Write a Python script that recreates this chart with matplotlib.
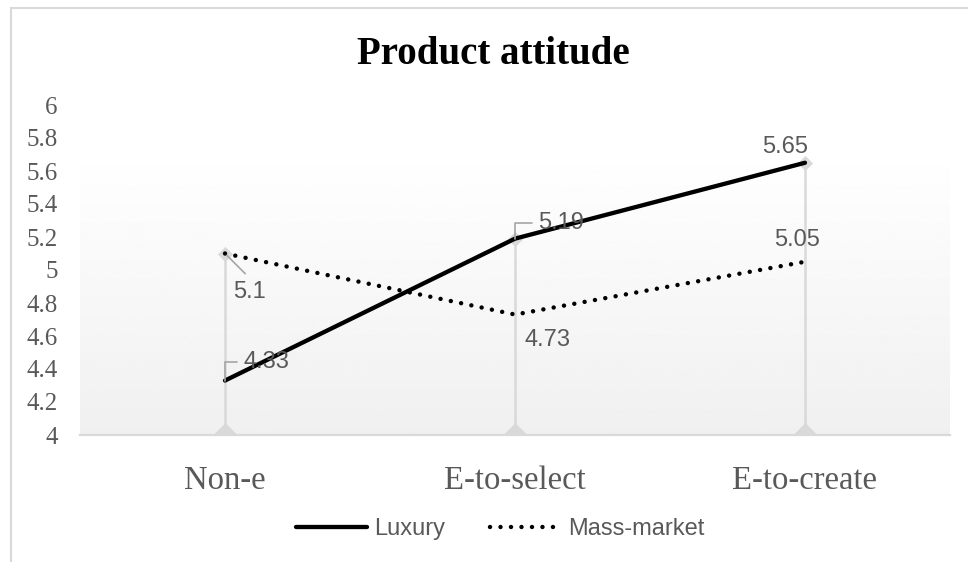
### Product attitude line chart (Excel style)
import numpy as np
import matplotlib.pyplot as plt
import matplotlib.patches as mpatches

### Data
categories = ['Non-e', 'E-to-select', 'E-to-create']
luxury = [4.33, 5.19, 5.65]
massmarket = [5.1, 4.73, 5.05]
yticks = [4, 4.2, 4.4, 4.6, 4.8, 5, 5.2, 5.4, 5.6, 5.8, 6]
yticklabels = ['4', '4.2', '4.4', '4.6', '4.8', '5', '5.2', '5.4', '5.6', '5.8', '6']

### Style
grey = '#595959'
lightgrey = '#d9d9d9'
serif = 'Liberation Serif'
sans = 'Liberation Sans'

W, H = 968, 562
fig = plt.figure(figsize=(W/100, H/100), dpi=100)
fig.patch.set_facecolor('white')

# outer chart border (cropped on right/bottom)
fig.patches.append(mpatches.Rectangle((10.5/W, -0.1), 1.2, 1.1 - 7.5/H,
                                      transform=fig.transFigure, fill=False,
                                      edgecolor=lightgrey, linewidth=1.5))

ax = fig.add_axes([80/W, 1-435/H, 870/W, 330/H])
x = np.arange(len(categories))
ax.set_xlim(-0.5, 2.5)
ax.set_ylim(4, 6)

# plot area gradient fill
grad = np.linspace(1.0, 0.94, 256).reshape(-1, 1)
ax.imshow(grad, cmap='gray', vmin=0, vmax=1, aspect='auto',
          extent=[-0.5, 2.5, 4, 5.745], zorder=0)

# drop lines with diamond ends
tops = np.maximum(luxury, massmarket)
ax.vlines(x, 4, tops, color=lightgrey, linewidth=1.8, zorder=1)
ax.scatter(x, tops, marker='D', s=60, color=lightgrey, zorder=1, linewidths=0)
ax.scatter(x, [4]*len(x), marker='D', s=160, color=lightgrey, zorder=1,
           linewidths=0, clip_on=True)

# series
ax.plot(x, luxury, color='black', linewidth=3.1, solid_capstyle='round',
        label='Luxury', zorder=3)
ax.plot(x, massmarket, color='black', linewidth=3.2, linestyle=(0, (0.01, 2.35)),
        dash_capstyle='round', label='Mass-market', zorder=3)

# data labels
lab = dict(fontsize=17, color=grey, family=sans, va='center')
leader = dict(arrowstyle='-', color='#a6a6a6', linewidth=1.2, shrinkA=2, shrinkB=0)
ax.annotate('4.33', xy=(x[0], luxury[0]), xytext=(13, 13), textcoords='offset points',
            ha='left', arrowprops=dict(leader, relpos=(0, 0.5),
            connectionstyle='angle,angleA=0,angleB=90,rad=0'), **lab)
ax.annotate('5.19', xy=(x[1], luxury[1]), xytext=(16.5, 11), textcoords='offset points',
            ha='left', arrowprops=dict(leader, relpos=(0, 0.5),
            connectionstyle='angle,angleA=0,angleB=90,rad=0'), **lab)
ax.annotate('5.65', xy=(x[2], luxury[2]), xytext=(-14, 11.5), textcoords='offset points',
            ha='center', **lab)
ax.annotate('5.1', xy=(x[0], massmarket[0]), xytext=(6, -28), textcoords='offset points',
            ha='left', arrowprops=dict(leader, relpos=(0.6, 1.0), shrinkA=5, shrinkB=2),
            **lab)
ax.annotate('4.73', xy=(x[1], massmarket[1]), xytext=(6.5, -18), textcoords='offset points',
            ha='left', **lab)
ax.annotate('5.05', xy=(x[2], massmarket[2]), xytext=(-6, 16), textcoords='offset points',
            ha='center', **lab)

# axes styling
for s in ['top', 'right', 'left']:
    ax.spines[s].set_visible(False)
ax.spines['bottom'].set_color(lightgrey)
ax.spines['bottom'].set_linewidth(1.6)
ax.spines['bottom'].set_zorder(2)
ax.set_xticks(x)
ax.set_xticklabels(categories, fontsize=23.5, color=grey, family=serif)
ax.set_yticks(yticks)
ax.set_yticklabels(yticklabels, fontsize=18, color=grey, family=serif)
ax.tick_params(axis='both', length=0)
ax.tick_params(axis='x', pad=22)
ax.tick_params(axis='y', pad=16)

fig.text(493/W, 1-55/H, 'Product attitude', ha='center', va='center',
         fontsize=28, fontweight='bold', family=serif, color='black')

leg = fig.legend(loc='center', bbox_to_anchor=(500/W, 1-529/H), ncol=2,
                 frameon=False, handlelength=3.0, handletextpad=0.3,
                 columnspacing=1.9, prop={'family': sans, 'size': 17})
for t in leg.get_texts():
    t.set_color(grey)

plt.savefig('out.png', dpi=100)
